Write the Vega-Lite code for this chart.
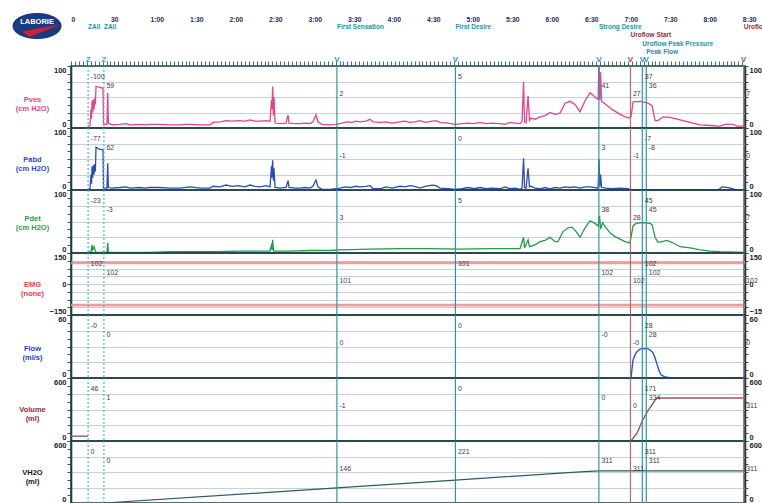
{
"$schema":"https://vega.github.io/schema/vega-lite/v6.json",
"padding":{"left":12,"top":0,"right":0,"bottom":0},
"autosize":{"type":"pad"},
"bounds":"flush",
"spacing":0,
"config":{"font":"Liberation Sans","view":{"stroke":"#1f3d45","strokeWidth":1.6},"axis":{"labelFont":"Liberation Sans","titleFont":"Liberation Sans"},"text":{"font":"Liberation Sans"}},
"datasets":{
"ev":[
{"id":"Z1","t":13,"r":0,"mk":"Z","kind":"z","lab":"ZAll","line":0},
{"id":"Z2","t":25,"r":1,"mk":"Z","kind":"z","lab":"ZAll","line":0},
{"id":"FS","t":202,"r":2,"mk":"V","kind":"v","lab":"First Sensation","line":0},
{"id":"FD","t":292,"r":0,"mk":"V","kind":"v","lab":"First Desire","line":0},
{"id":"SD","t":401,"r":1,"mk":"V","kind":"v","lab":"Strong Desire","line":0},
{"id":"US","t":425,"r":2,"mk":"V","kind":"u","lab":"Uroflow Start","line":1},
{"id":"PP","t":434,"r":0,"mk":"V","kind":"v","lab":"Uroflow Peak Pressure","line":2},
{"id":"PF","t":437,"r":1,"mk":"V","kind":"v","lab":"Peak Flow","line":3},
{"id":"UE","t":511,"r":2,"mk":"V","kind":"u","lab":"Uroflow End","line":0}
],
"ann":[
{"c":"Pves","e":"Z1","txt":"-100"},{"c":"Pves","e":"Z2","txt":"59"},{"c":"Pves","e":"FS","txt":"2"},{"c":"Pves","e":"FD","txt":"5"},{"c":"Pves","e":"SD","txt":"41"},{"c":"Pves","e":"US","txt":"27"},{"c":"Pves","e":"PP","txt":"37"},{"c":"Pves","e":"PF","txt":"36"},{"c":"Pves","e":"UE","txt":"7"},
{"c":"Pabd","e":"Z1","txt":"-77"},{"c":"Pabd","e":"Z2","txt":"62"},{"c":"Pabd","e":"FS","txt":"-1"},{"c":"Pabd","e":"FD","txt":"0"},{"c":"Pabd","e":"SD","txt":"3"},{"c":"Pabd","e":"US","txt":"-1"},{"c":"Pabd","e":"PP","txt":"-7"},{"c":"Pabd","e":"PF","txt":"-8"},{"c":"Pabd","e":"UE","txt":"0"},
{"c":"Pdet","e":"Z1","txt":"-23"},{"c":"Pdet","e":"Z2","txt":"-3"},{"c":"Pdet","e":"FS","txt":"3"},{"c":"Pdet","e":"FD","txt":"5"},{"c":"Pdet","e":"SD","txt":"38"},{"c":"Pdet","e":"US","txt":"28"},{"c":"Pdet","e":"PP","txt":"45"},{"c":"Pdet","e":"PF","txt":"45"},{"c":"Pdet","e":"UE","txt":"7"},
{"c":"EMG","e":"Z1","txt":"102"},{"c":"EMG","e":"Z2","txt":"102"},{"c":"EMG","e":"FS","txt":"101"},{"c":"EMG","e":"FD","txt":"101"},{"c":"EMG","e":"SD","txt":"102"},{"c":"EMG","e":"US","txt":"102"},{"c":"EMG","e":"PP","txt":"102"},{"c":"EMG","e":"PF","txt":"102"},{"c":"EMG","e":"UE","txt":"102"},
{"c":"Flow","e":"Z1","txt":"-0"},{"c":"Flow","e":"Z2","txt":"0"},{"c":"Flow","e":"FS","txt":"0"},{"c":"Flow","e":"FD","txt":"0"},{"c":"Flow","e":"SD","txt":"-0"},{"c":"Flow","e":"US","txt":"-0"},{"c":"Flow","e":"PP","txt":"28"},{"c":"Flow","e":"PF","txt":"28"},{"c":"Flow","e":"UE","txt":"0"},
{"c":"Volume","e":"Z1","txt":"46"},{"c":"Volume","e":"Z2","txt":"1"},{"c":"Volume","e":"FS","txt":"-1"},{"c":"Volume","e":"FD","txt":"0"},{"c":"Volume","e":"SD","txt":"0"},{"c":"Volume","e":"US","txt":"0"},{"c":"Volume","e":"PP","txt":"171"},{"c":"Volume","e":"PF","txt":"334"},{"c":"Volume","e":"UE","txt":"311"},
{"c":"VH2O","e":"Z1","txt":"0"},{"c":"VH2O","e":"Z2","txt":"0"},{"c":"VH2O","e":"FS","txt":"146"},{"c":"VH2O","e":"FD","txt":"221"},{"c":"VH2O","e":"SD","txt":"311"},{"c":"VH2O","e":"US","txt":"311"},{"c":"VH2O","e":"PP","txt":"311"},{"c":"VH2O","e":"PF","txt":"311"},{"c":"VH2O","e":"UE","txt":"311"}
],
"sig":[
{"c":"Pves","t":12.9,"v":3},{"c":"Pves","t":14.4,"v":4},{"c":"Pves","t":15.2,"v":30},{"c":"Pves","t":15.6,"v":15},{"c":"Pves","t":16.0,"v":44},{"c":"Pves","t":16.5,"v":25},{"c":"Pves","t":16.9,"v":46},{"c":"Pves","t":17.5,"v":30},{"c":"Pves","t":18.0,"v":48},{"c":"Pves","t":18.5,"v":38},{"c":"Pves","t":19.0,"v":67},{"c":"Pves","t":21.3,"v":66},{"c":"Pves","t":24.3,"v":64},{"c":"Pves","t":24.7,"v":6},{"c":"Pves","t":27.3,"v":6},{"c":"Pves","t":27.9,"v":57},{"c":"Pves","t":28.4,"v":8},{"c":"Pves","t":31.1,"v":5},{"c":"Pves","t":37.2,"v":6},{"c":"Pves","t":41.8,"v":7},{"c":"Pves","t":44.8,"v":5},{"c":"Pves","t":52.4,"v":6},{"c":"Pves","t":56.2,"v":5},{"c":"Pves","t":60.0,"v":6},{"c":"Pves","t":67.6,"v":6},{"c":"Pves","t":75.2,"v":5},{"c":"Pves","t":82.8,"v":5},{"c":"Pves","t":86.6,"v":6},{"c":"Pves","t":90.4,"v":6},{"c":"Pves","t":98.0,"v":5},{"c":"Pves","t":105.6,"v":5},{"c":"Pves","t":107.9,"v":9},{"c":"Pves","t":113.2,"v":10},{"c":"Pves","t":117.8,"v":12},{"c":"Pves","t":122.3,"v":11},{"c":"Pves","t":126.9,"v":12},{"c":"Pves","t":132.2,"v":11},{"c":"Pves","t":136.0,"v":13},{"c":"Pves","t":139.8,"v":11},{"c":"Pves","t":143.6,"v":11},{"c":"Pves","t":148.1,"v":12},{"c":"Pves","t":151.2,"v":11},{"c":"Pves","t":152.3,"v":45},{"c":"Pves","t":152.7,"v":30},{"c":"Pves","t":153.2,"v":67},{"c":"Pves","t":153.8,"v":20},{"c":"Pves","t":154.2,"v":50},{"c":"Pves","t":155.0,"v":8},{"c":"Pves","t":158.8,"v":7},{"c":"Pves","t":163.3,"v":8},{"c":"Pves","t":164.9,"v":21},{"c":"Pves","t":165.6,"v":8},{"c":"Pves","t":170.2,"v":7},{"c":"Pves","t":174.0,"v":7},{"c":"Pves","t":177.8,"v":8},{"c":"Pves","t":181.6,"v":7},{"c":"Pves","t":183.8,"v":10},{"c":"Pves","t":186.1,"v":21},{"c":"Pves","t":187.6,"v":10},{"c":"Pves","t":190.7,"v":6},{"c":"Pves","t":196.8,"v":5},{"c":"Pves","t":201.3,"v":6},{"c":"Pves","t":205.9,"v":8},{"c":"Pves","t":209.7,"v":10},{"c":"Pves","t":213.5,"v":9},{"c":"Pves","t":216.5,"v":11},{"c":"Pves","t":219.6,"v":10},{"c":"Pves","t":224.1,"v":11},{"c":"Pves","t":227.1,"v":14},{"c":"Pves","t":229.4,"v":10},{"c":"Pves","t":234.7,"v":9},{"c":"Pves","t":239.3,"v":10},{"c":"Pves","t":243.9,"v":8},{"c":"Pves","t":249.9,"v":10},{"c":"Pves","t":253.7,"v":11},{"c":"Pves","t":257.5,"v":9},{"c":"Pves","t":261.3,"v":10},{"c":"Pves","t":265.1,"v":12},{"c":"Pves","t":268.9,"v":9},{"c":"Pves","t":274.3,"v":11},{"c":"Pves","t":277.3,"v":12},{"c":"Pves","t":280.3,"v":9},{"c":"Pves","t":286.4,"v":8},{"c":"Pves","t":291.7,"v":6},{"c":"Pves","t":297.0,"v":7},{"c":"Pves","t":301.6,"v":8},{"c":"Pves","t":306.2,"v":7},{"c":"Pves","t":310.7,"v":9},{"c":"Pves","t":315.3,"v":7},{"c":"Pves","t":319.8,"v":8},{"c":"Pves","t":325.9,"v":7},{"c":"Pves","t":329.7,"v":6},{"c":"Pves","t":333.5,"v":9},{"c":"Pves","t":337.3,"v":8},{"c":"Pves","t":341.1,"v":7},{"c":"Pves","t":342.6,"v":10},{"c":"Pves","t":343.8,"v":74},{"c":"Pves","t":344.5,"v":10},{"c":"Pves","t":345.7,"v":8},{"c":"Pves","t":347.2,"v":52},{"c":"Pves","t":348.3,"v":12},{"c":"Pves","t":349.5,"v":16},{"c":"Pves","t":352.5,"v":14},{"c":"Pves","t":356.3,"v":18},{"c":"Pves","t":360.1,"v":20},{"c":"Pves","t":363.9,"v":25},{"c":"Pves","t":367.7,"v":22},{"c":"Pves","t":371.5,"v":24},{"c":"Pves","t":375.3,"v":40},{"c":"Pves","t":379.1,"v":43},{"c":"Pves","t":382.9,"v":38},{"c":"Pves","t":386.7,"v":26},{"c":"Pves","t":390.5,"v":44},{"c":"Pves","t":394.3,"v":57},{"c":"Pves","t":398.1,"v":50},{"c":"Pves","t":400.4,"v":46},{"c":"Pves","t":401.1,"v":115},{"c":"Pves","t":401.7,"v":45},{"c":"Pves","t":402.3,"v":90},{"c":"Pves","t":403.0,"v":43},{"c":"Pves","t":406.4,"v":38},{"c":"Pves","t":411.0,"v":30},{"c":"Pves","t":417.1,"v":22},{"c":"Pves","t":423.2,"v":16},{"c":"Pves","t":425.4,"v":18},{"c":"Pves","t":427.0,"v":42},{"c":"Pves","t":432.3,"v":43},{"c":"Pves","t":438.3,"v":40},{"c":"Pves","t":441.4,"v":36},{"c":"Pves","t":443.7,"v":12},{"c":"Pves","t":445.9,"v":12},{"c":"Pves","t":449.7,"v":18},{"c":"Pves","t":455.1,"v":17},{"c":"Pves","t":462.7,"v":13},{"c":"Pves","t":470.3,"v":9},{"c":"Pves","t":477.9,"v":5},{"c":"Pves","t":485.4,"v":4},{"c":"Pves","t":493.0,"v":3},{"c":"Pves","t":496.8,"v":6},{"c":"Pves","t":502.9,"v":6},{"c":"Pves","t":506.0,"v":3},{"c":"Pves","t":512.0,"v":3},
{"c":"Pabd","t":12.9,"v":1},{"c":"Pabd","t":14.4,"v":2},{"c":"Pabd","t":15.2,"v":25},{"c":"Pabd","t":15.6,"v":10},{"c":"Pabd","t":16.0,"v":38},{"c":"Pabd","t":16.5,"v":20},{"c":"Pabd","t":16.9,"v":40},{"c":"Pabd","t":17.5,"v":25},{"c":"Pabd","t":18.0,"v":42},{"c":"Pabd","t":18.5,"v":30},{"c":"Pabd","t":19.0,"v":69},{"c":"Pabd","t":21.3,"v":66},{"c":"Pabd","t":24.3,"v":65},{"c":"Pabd","t":24.7,"v":3},{"c":"Pabd","t":27.3,"v":3},{"c":"Pabd","t":27.9,"v":43},{"c":"Pabd","t":28.4,"v":4},{"c":"Pabd","t":31.1,"v":3},{"c":"Pabd","t":37.2,"v":4},{"c":"Pabd","t":41.8,"v":5},{"c":"Pabd","t":44.8,"v":3},{"c":"Pabd","t":52.4,"v":4},{"c":"Pabd","t":56.2,"v":3},{"c":"Pabd","t":60.0,"v":4},{"c":"Pabd","t":67.6,"v":4},{"c":"Pabd","t":75.2,"v":3},{"c":"Pabd","t":82.8,"v":3},{"c":"Pabd","t":90.4,"v":5},{"c":"Pabd","t":98.0,"v":3},{"c":"Pabd","t":105.6,"v":3},{"c":"Pabd","t":107.9,"v":6},{"c":"Pabd","t":113.2,"v":5},{"c":"Pabd","t":117.8,"v":8},{"c":"Pabd","t":122.3,"v":6},{"c":"Pabd","t":126.9,"v":7},{"c":"Pabd","t":132.2,"v":5},{"c":"Pabd","t":136.0,"v":8},{"c":"Pabd","t":139.8,"v":6},{"c":"Pabd","t":143.6,"v":5},{"c":"Pabd","t":148.1,"v":7},{"c":"Pabd","t":151.2,"v":5},{"c":"Pabd","t":152.3,"v":39},{"c":"Pabd","t":152.7,"v":20},{"c":"Pabd","t":153.2,"v":48},{"c":"Pabd","t":153.8,"v":15},{"c":"Pabd","t":154.2,"v":35},{"c":"Pabd","t":155.0,"v":4},{"c":"Pabd","t":158.8,"v":3},{"c":"Pabd","t":163.3,"v":4},{"c":"Pabd","t":164.9,"v":15},{"c":"Pabd","t":165.6,"v":4},{"c":"Pabd","t":170.2,"v":3},{"c":"Pabd","t":174.0,"v":3},{"c":"Pabd","t":177.8,"v":4},{"c":"Pabd","t":181.6,"v":3},{"c":"Pabd","t":183.8,"v":6},{"c":"Pabd","t":186.1,"v":16},{"c":"Pabd","t":187.6,"v":5},{"c":"Pabd","t":190.7,"v":1},{"c":"Pabd","t":196.8,"v":1},{"c":"Pabd","t":204.4,"v":3},{"c":"Pabd","t":208.2,"v":5},{"c":"Pabd","t":212.0,"v":4},{"c":"Pabd","t":216.5,"v":6},{"c":"Pabd","t":219.6,"v":5},{"c":"Pabd","t":224.1,"v":6},{"c":"Pabd","t":227.1,"v":7},{"c":"Pabd","t":229.4,"v":2},{"c":"Pabd","t":234.7,"v":2},{"c":"Pabd","t":239.3,"v":5},{"c":"Pabd","t":243.9,"v":3},{"c":"Pabd","t":249.9,"v":6},{"c":"Pabd","t":253.7,"v":5},{"c":"Pabd","t":257.5,"v":7},{"c":"Pabd","t":261.3,"v":6},{"c":"Pabd","t":265.1,"v":3},{"c":"Pabd","t":268.9,"v":6},{"c":"Pabd","t":274.3,"v":8},{"c":"Pabd","t":277.3,"v":7},{"c":"Pabd","t":280.3,"v":3},{"c":"Pabd","t":286.4,"v":2},{"c":"Pabd","t":291.7,"v":1},{"c":"Pabd","t":297.0,"v":2},{"c":"Pabd","t":301.6,"v":4},{"c":"Pabd","t":306.2,"v":2},{"c":"Pabd","t":310.7,"v":4},{"c":"Pabd","t":315.3,"v":2},{"c":"Pabd","t":319.8,"v":3},{"c":"Pabd","t":325.9,"v":2},{"c":"Pabd","t":329.7,"v":5},{"c":"Pabd","t":333.5,"v":2},{"c":"Pabd","t":337.3,"v":3},{"c":"Pabd","t":341.1,"v":1},{"c":"Pabd","t":342.6,"v":3},{"c":"Pabd","t":343.8,"v":51},{"c":"Pabd","t":344.5,"v":4},{"c":"Pabd","t":345.7,"v":3},{"c":"Pabd","t":347.2,"v":35},{"c":"Pabd","t":348.3,"v":5},{"c":"Pabd","t":349.5,"v":6},{"c":"Pabd","t":352.5,"v":3},{"c":"Pabd","t":356.3,"v":2},{"c":"Pabd","t":360.1,"v":4},{"c":"Pabd","t":363.9,"v":2},{"c":"Pabd","t":367.7,"v":4},{"c":"Pabd","t":371.5,"v":3},{"c":"Pabd","t":375.3,"v":5},{"c":"Pabd","t":379.1,"v":4},{"c":"Pabd","t":382.9,"v":5},{"c":"Pabd","t":386.7,"v":3},{"c":"Pabd","t":390.5,"v":5},{"c":"Pabd","t":394.3,"v":5},{"c":"Pabd","t":398.1,"v":4},{"c":"Pabd","t":400.4,"v":3},{"c":"Pabd","t":401.1,"v":50},{"c":"Pabd","t":401.7,"v":5},{"c":"Pabd","t":402.3,"v":25},{"c":"Pabd","t":403.0,"v":4},{"c":"Pabd","t":406.4,"v":3},{"c":"Pabd","t":411.0,"v":2},{"c":"Pabd","t":417.1,"v":3},{"c":"Pabd","t":423.2,"v":2},{"c":"Pabd","t":425.4,"v":0},{"c":"Pabd","t":491.5,"v":0},{"c":"Pabd","t":494.6,"v":5},{"c":"Pabd","t":499.1,"v":4},{"c":"Pabd","t":502.9,"v":2},{"c":"Pabd","t":506.0,"v":0},{"c":"Pabd","t":512.0,"v":0},
{"c":"Pdet","t":12.9,"v":1},{"c":"Pdet","t":15.2,"v":2},{"c":"Pdet","t":16.0,"v":13},{"c":"Pdet","t":16.5,"v":5},{"c":"Pdet","t":17.5,"v":10},{"c":"Pdet","t":18.5,"v":3},{"c":"Pdet","t":19.0,"v":1},{"c":"Pdet","t":24.7,"v":1},{"c":"Pdet","t":27.3,"v":1},{"c":"Pdet","t":27.9,"v":16},{"c":"Pdet","t":28.4,"v":1},{"c":"Pdet","t":31.1,"v":1},{"c":"Pdet","t":44.8,"v":1},{"c":"Pdet","t":60.0,"v":1},{"c":"Pdet","t":75.2,"v":2},{"c":"Pdet","t":98.0,"v":2},{"c":"Pdet","t":109.4,"v":2},{"c":"Pdet","t":128.4,"v":3},{"c":"Pdet","t":143.6,"v":3},{"c":"Pdet","t":151.2,"v":3},{"c":"Pdet","t":152.5,"v":15},{"c":"Pdet","t":152.7,"v":5},{"c":"Pdet","t":153.2,"v":21},{"c":"Pdet","t":153.8,"v":3},{"c":"Pdet","t":166.4,"v":3},{"c":"Pdet","t":181.6,"v":4},{"c":"Pdet","t":196.8,"v":4},{"c":"Pdet","t":204.4,"v":5},{"c":"Pdet","t":227.1,"v":6},{"c":"Pdet","t":249.9,"v":7},{"c":"Pdet","t":272.7,"v":7},{"c":"Pdet","t":295.5,"v":6},{"c":"Pdet","t":318.3,"v":7},{"c":"Pdet","t":341.1,"v":7},{"c":"Pdet","t":343.8,"v":25},{"c":"Pdet","t":344.5,"v":8},{"c":"Pdet","t":347.2,"v":21},{"c":"Pdet","t":348.3,"v":10},{"c":"Pdet","t":352.5,"v":13},{"c":"Pdet","t":356.3,"v":18},{"c":"Pdet","t":360.1,"v":20},{"c":"Pdet","t":363.9,"v":25},{"c":"Pdet","t":367.7,"v":18},{"c":"Pdet","t":369.9,"v":18},{"c":"Pdet","t":373.8,"v":34},{"c":"Pdet","t":377.6,"v":40},{"c":"Pdet","t":380.6,"v":41},{"c":"Pdet","t":383.7,"v":34},{"c":"Pdet","t":386.7,"v":25},{"c":"Pdet","t":390.5,"v":40},{"c":"Pdet","t":394.3,"v":51},{"c":"Pdet","t":398.1,"v":47},{"c":"Pdet","t":400.4,"v":43},{"c":"Pdet","t":401.5,"v":59},{"c":"Pdet","t":402.3,"v":38},{"c":"Pdet","t":403.8,"v":48},{"c":"Pdet","t":406.0,"v":41},{"c":"Pdet","t":409.5,"v":32},{"c":"Pdet","t":413.3,"v":26},{"c":"Pdet","t":417.1,"v":22},{"c":"Pdet","t":420.9,"v":18},{"c":"Pdet","t":424.6,"v":16},{"c":"Pdet","t":427.0,"v":43},{"c":"Pdet","t":429.2,"v":47},{"c":"Pdet","t":432.3,"v":48},{"c":"Pdet","t":436.1,"v":48},{"c":"Pdet","t":439.9,"v":47},{"c":"Pdet","t":441.4,"v":45},{"c":"Pdet","t":443.7,"v":25},{"c":"Pdet","t":445.9,"v":17},{"c":"Pdet","t":448.9,"v":18},{"c":"Pdet","t":452.7,"v":20},{"c":"Pdet","t":456.5,"v":17},{"c":"Pdet","t":462.7,"v":10},{"c":"Pdet","t":470.3,"v":8},{"c":"Pdet","t":477.9,"v":5},{"c":"Pdet","t":485.4,"v":3},{"c":"Pdet","t":493.0,"v":2},{"c":"Pdet","t":512.0,"v":1},
{"c":"EMG","s":"a","t":0,"v":102},{"c":"EMG","s":"a","t":512,"v":102},{"c":"EMG","s":"b","t":0,"v":-102},{"c":"EMG","s":"b","t":512,"v":-102},
{"c":"Flow","t":425.4,"v":0},{"c":"Flow","t":426.1,"v":8},{"c":"Flow","t":426.9,"v":17},{"c":"Flow","t":428.4,"v":22},{"c":"Flow","t":429.9,"v":25},{"c":"Flow","t":432.2,"v":27.5},{"c":"Flow","t":435.3,"v":28},{"c":"Flow","t":438.3,"v":28},{"c":"Flow","t":440.6,"v":26},{"c":"Flow","t":442.1,"v":24},{"c":"Flow","t":443.7,"v":19},{"c":"Flow","t":445.2,"v":13},{"c":"Flow","t":446.7,"v":7},{"c":"Flow","t":448.2,"v":3},{"c":"Flow","t":451.3,"v":1},{"c":"Flow","t":455.1,"v":0.3},{"c":"Flow","t":512,"v":0},
{"c":"Volume","s":"a","t":0,"v":46},{"c":"Volume","s":"a","t":12.9,"v":46},{"c":"Volume","s":"b","t":425.4,"v":0},{"c":"Volume","s":"b","t":430,"v":75},{"c":"Volume","s":"b","t":434.3,"v":200},{"c":"Volume","s":"b","t":438.3,"v":290},{"c":"Volume","s":"b","t":441.4,"v":345},{"c":"Volume","s":"b","t":443.7,"v":390},{"c":"Volume","s":"b","t":445.2,"v":410},{"c":"Volume","s":"b","t":512,"v":410},
{"c":"VH2O","t":25,"v":0},{"c":"VH2O","t":202,"v":146},{"c":"VH2O","t":292,"v":221},{"c":"VH2O","t":372,"v":290},{"c":"VH2O","t":390,"v":304},{"c":"VH2O","t":401,"v":311},{"c":"VH2O","t":512,"v":311}
]
},
"vconcat":[
{
"width":674,"height":66,"view":{"stroke":null},
"layer":[
{"data":{"name":"ev"},"transform":[{"filter":"datum.id!=='UE'"}],
"mark":{"type":"text","align":"left","baseline":"middle","fontSize":6.5,"fontWeight":"bold"},
"encoding":{
"x":{"field":"t","type":"quantitative","scale":{"domain":[0,512],"nice":false,"zero":false},"axis":{"orient":"top","offset":-23,"values":[0,30,60,90,120,150,180,210,240,270,300,330,360,390,420,450,480,510],"labelExpr":"datum.value<60 ? format(datum.value,'d') : floor(datum.value/60) + ':' + (datum.value%60==0 ? '00' : '30')","labelAlign":"left","labelOverlap":false,"ticks":false,"tickSize":0,"domain":false,"grid":false,"labelPadding":1,"labelFontSize":6.8,"labelFontWeight":"bold","labelColor":"#1d2d5a","title":null}},
"y":{"field":"line","type":"quantitative","scale":{"domain":[-3.24,4.68],"reverse":true,"nice":false,"zero":false},"axis":null},
"text":{"field":"lab"},
"color":{"condition":{"test":"datum.kind==='u'","value":"#9b2d3f"},"value":"#1a93ad"}}},
{"data":{"name":"ev"},"transform":[{"filter":"datum.id==='UE'"}],
"mark":{"type":"text","align":"left","baseline":"middle","fontSize":6.5,"fontWeight":"bold","limit":20,"ellipsis":"\u200b"},
"encoding":{
"x":{"field":"t","type":"quantitative","scale":{"domain":[0,512],"nice":false,"zero":false},"axis":null},
"y":{"field":"line","type":"quantitative"},
"text":{"field":"lab"},
"color":{"value":"#9b2d3f"}}},
{"data":{"name":"ev"},
"mark":{"type":"text","align":"center","baseline":"middle","fontSize":8,"fontWeight":"bold"},
"encoding":{
"x":{"field":"t","type":"quantitative","scale":{"domain":[0,512],"nice":false,"zero":false},"axis":{"orient":"bottom","offset":-5,"values":[0,3,6,9,12,15,18,21,24,27,30,33,36,39,42,45,48,51,54,57,60,63,66,69,72,75,78,81,84,87,90,93,96,99,102,105,108,111,114,117,120,123,126,129,132,135,138,141,144,147,150,153,156,159,162,165,168,171,174,177,180,183,186,189,192,195,198,201,204,207,210,213,216,219,222,225,228,231,234,237,240,243,246,249,252,255,258,261,264,267,270,273,276,279,282,285,288,291,294,297,300,303,306,309,312,315,318,321,324,327,330,333,336,339,342,345,348,351,354,357,360,363,366,369,372,375,378,381,384,387,390,393,396,399,402,405,408,411,414,417,420,423,426,429,432,435,438,441,444,447,450,453,456,459,462,465,468,471,474,477,480,483,486,489,492,495,498,501,504,507,510],"ticks":true,"tickSize":4,"tickColor":"#2b7a8c","tickWidth":1,"labels":false,"domain":false,"grid":false,"title":null}},
"y":{"datum":3.96,"type":"quantitative"},
"text":{"field":"mk"},
"color":{"condition":[{"test":"datum.kind==='u'","value":"#b0454f"},{"test":"datum.kind==='z'","value":"#35aed0"}],"value":"#2496b0"}}},
{"data":{"values":[{}]},
"mark":{"type":"point","shape":"M-1,0A1,0.53,0,1,0,1,0A1,0.53,0,1,0,-1,0Z","size":2401,"filled":true,"color":"#1c3a80","opacity":1,"strokeWidth":0},
"encoding":{"x":{"datum":-25.8,"type":"quantitative","axis":null},"y":{"datum":-0.12,"type":"quantitative"}}},
{"data":{"values":[{}]},
"mark":{"type":"point","shape":"M-0.62,0.22L0.95,-0.06L-0.3,0.44Z","size":2401,"filled":true,"color":"#d4202c","opacity":1,"strokeWidth":0},
"encoding":{"x":{"datum":-25.8,"type":"quantitative","axis":null},"y":{"datum":-0.12,"type":"quantitative"}}},
{"data":{"values":[{}]},
"mark":{"type":"text","align":"center","baseline":"middle","fontSize":7.5,"fontWeight":"bold","color":"#ffffff","text":"LABORIE"},
"encoding":{"x":{"datum":-25.8,"type":"quantitative","axis":null},"y":{"datum":-0.6,"type":"quantitative"}}}
],
"resolve":{"axis":{"x":"independent"}}
},
{
"width":674,"height":62,
"layer":[
{"data":{"name":"sig"},"transform":[{"filter":"datum.c==='Pves'"}],
"mark":{"type":"line","color":"#e8428c","strokeWidth":1.3,"clip":true},
"encoding":{
"x":{"field":"t","type":"quantitative","scale":{"domain":[0,512],"nice":false,"zero":false},"axis":{"orient":"top","values":[0,30,60,90,120,150,180,210,240,270,300,330,360,390,420,450,480,510],"grid":true,"gridColor":"#d0e2ee","gridOpacity":{"condition":{"test":"datum.value>0","value":1},"value":0},"ticks":true,"tickSize":7,"tickColor":"#2b7a8c","labels":false,"domain":false,"title":null}},
"y":{"field":"v","type":"quantitative","scale":{"domain":[0,100],"nice":false,"zero":false},"axis":{"orient":"left","values":[0,12.5,25,37.5,50,62.5,75,87.5,100],"labelExpr":"datum.value==0||datum.value==100?datum.label:''","labelFlush":true,"labelOverlap":false,"tickSize":4,"tickColor":"#33555e","domainColor":"#1f3d45","domainWidth":1.6,"grid":true,"gridColor":"#c5d0d8","gridOpacity":{"condition":{"test":"datum.value==25||datum.value==50||datum.value==75","value":1},"value":0},"labelFontSize":7.5,"labelFontWeight":"bold","labelColor":"#222222","labelPadding":1,"title":["Pves","(cm H2O)"],"titleColor":"#e8428c","titleFontSize":7.5,"titleFontWeight":"bold","titleAngle":0,"titleAlign":"center","titleBaseline":"middle","titleX":-39,"titleY":33,"titleLineHeight":9}},
"detail":{"field":"s"}}},
{"data":{"name":"ev"},"mark":{"type":"rule","strokeWidth":1.2},
"encoding":{"x":{"field":"t","type":"quantitative","scale":{"domain":[0,512],"nice":false,"zero":false},"axis":null},
"color":{"condition":[{"test":"datum.kind==='u'","value":"#b46a6a"},{"test":"datum.kind==='z'","value":"#4ab6d6"}],"value":"#2a98b0"},
"strokeDash":{"condition":{"test":"datum.kind==='z'","value":[2,2]},"value":[1,0]}}},
{"data":{"values":[{}]},"mark":{"type":"rule","opacity":0},
"encoding":{"y":{"datum":0,"type":"quantitative","scale":{"domain":[0,100],"nice":false,"zero":false},"axis":{"orient":"right","values":[0,12.5,25,37.5,50,62.5,75,87.5,100],"labelExpr":"datum.value==0||datum.value==100?datum.label:''","labelFlush":true,"labelOverlap":false,"tickSize":3,"tickColor":"#33555e","domainColor":"#1f3d45","domainWidth":1.6,"grid":false,"labelFontSize":7.5,"labelFontWeight":"bold","labelColor":"#222222","labelPadding":1,"title":null}}}},
{"data":{"name":"ann"},"transform":[{"filter":"datum.c==='Pves'"},{"lookup":"e","from":{"data":{"name":"ev"},"key":"id","fields":["t","r"]}}],
"mark":{"type":"text","align":"left","baseline":"middle","dx":2.5,"fontSize":7,"color":"#3c3c3c"},
"encoding":{"x":{"field":"t","type":"quantitative","scale":{"domain":[0,512],"nice":false,"zero":false},"axis":null},
"y":{"field":"r","type":"quantitative","scale":{"domain":[-1.3,6],"reverse":true,"nice":false,"zero":false},"axis":null},
"text":{"field":"txt"}}}
],
"resolve":{"scale":{"y":"independent"}}
},
{
"width":674,"height":62,
"layer":[
{"data":{"name":"sig"},"transform":[{"filter":"datum.c==='Pabd'"}],
"mark":{"type":"line","color":"#2a4cb8","strokeWidth":1.3,"clip":true},
"encoding":{
"x":{"field":"t","type":"quantitative","scale":{"domain":[0,512],"nice":false,"zero":false},"axis":{"orient":"bottom","values":[0,30,60,90,120,150,180,210,240,270,300,330,360,390,420,450,480,510],"grid":true,"gridColor":"#d0e2ee","gridOpacity":{"condition":{"test":"datum.value>0","value":1},"value":0},"ticks":false,"labels":false,"domain":false,"title":null}},
"y":{"field":"v","type":"quantitative","scale":{"domain":[0,100],"nice":false,"zero":false},"axis":{"orient":"left","values":[0,12.5,25,37.5,50,62.5,75,87.5,100],"labelExpr":"datum.value==0||datum.value==100?datum.label:''","labelFlush":true,"labelOverlap":false,"tickSize":4,"tickColor":"#33555e","domainColor":"#1f3d45","domainWidth":1.6,"grid":true,"gridColor":"#c5d0d8","gridOpacity":{"condition":{"test":"datum.value==25||datum.value==50||datum.value==75","value":1},"value":0},"labelFontSize":7.5,"labelFontWeight":"bold","labelColor":"#222222","labelPadding":1,"title":["Pabd","(cm H2O)"],"titleColor":"#2a4cb8","titleFontSize":7.5,"titleFontWeight":"bold","titleAngle":0,"titleAlign":"center","titleBaseline":"middle","titleX":-39,"titleY":31,"titleLineHeight":9}}}},
{"data":{"name":"ev"},"mark":{"type":"rule","strokeWidth":1.2},
"encoding":{"x":{"field":"t","type":"quantitative","scale":{"domain":[0,512],"nice":false,"zero":false},"axis":null},
"color":{"condition":[{"test":"datum.kind==='u'","value":"#b46a6a"},{"test":"datum.kind==='z'","value":"#4ab6d6"}],"value":"#2a98b0"},
"strokeDash":{"condition":{"test":"datum.kind==='z'","value":[2,2]},"value":[1,0]}}},
{"data":{"values":[{}]},"mark":{"type":"rule","opacity":0},
"encoding":{"y":{"datum":0,"type":"quantitative","scale":{"domain":[0,100],"nice":false,"zero":false},"axis":{"orient":"right","values":[0,12.5,25,37.5,50,62.5,75,87.5,100],"labelExpr":"datum.value==0||datum.value==100?datum.label:''","labelFlush":true,"labelOverlap":false,"tickSize":3,"tickColor":"#33555e","domainColor":"#1f3d45","domainWidth":1.6,"grid":false,"labelFontSize":7.5,"labelFontWeight":"bold","labelColor":"#222222","labelPadding":1,"title":null}}}},
{"data":{"name":"ann"},"transform":[{"filter":"datum.c==='Pabd'"},{"lookup":"e","from":{"data":{"name":"ev"},"key":"id","fields":["t","r"]}}],
"mark":{"type":"text","align":"left","baseline":"middle","dx":2.5,"fontSize":7,"color":"#3c3c3c"},
"encoding":{"x":{"field":"t","type":"quantitative","scale":{"domain":[0,512],"nice":false,"zero":false},"axis":null},
"y":{"field":"r","type":"quantitative","scale":{"domain":[-1.3,6],"reverse":true,"nice":false,"zero":false},"axis":null},
"text":{"field":"txt"}}}
],
"resolve":{"scale":{"y":"independent"}}
},
{
"width":674,"height":63,
"layer":[
{"data":{"name":"sig"},"transform":[{"filter":"datum.c==='Pdet'"}],
"mark":{"type":"line","color":"#1f9e45","strokeWidth":1.3,"clip":true},
"encoding":{
"x":{"field":"t","type":"quantitative","scale":{"domain":[0,512],"nice":false,"zero":false},"axis":{"orient":"bottom","values":[0,30,60,90,120,150,180,210,240,270,300,330,360,390,420,450,480,510],"grid":true,"gridColor":"#d0e2ee","gridOpacity":{"condition":{"test":"datum.value>0","value":1},"value":0},"ticks":false,"labels":false,"domain":false,"title":null}},
"y":{"field":"v","type":"quantitative","scale":{"domain":[0,100],"nice":false,"zero":false},"axis":{"orient":"left","values":[0,12.5,25,37.5,50,62.5,75,87.5,100],"labelExpr":"datum.value==0||datum.value==100?datum.label:''","labelFlush":true,"labelOverlap":false,"tickSize":4,"tickColor":"#33555e","domainColor":"#1f3d45","domainWidth":1.6,"grid":true,"gridColor":"#c5d0d8","gridOpacity":{"condition":{"test":"datum.value==25||datum.value==50||datum.value==75","value":1},"value":0},"labelFontSize":7.5,"labelFontWeight":"bold","labelColor":"#222222","labelPadding":1,"title":["Pdet","(cm H2O)"],"titleColor":"#1f9e45","titleFontSize":7.5,"titleFontWeight":"bold","titleAngle":0,"titleAlign":"center","titleBaseline":"middle","titleX":-39,"titleY":28,"titleLineHeight":9}}}},
{"data":{"name":"ev"},"mark":{"type":"rule","strokeWidth":1.2},
"encoding":{"x":{"field":"t","type":"quantitative","scale":{"domain":[0,512],"nice":false,"zero":false},"axis":null},
"color":{"condition":[{"test":"datum.kind==='u'","value":"#b46a6a"},{"test":"datum.kind==='z'","value":"#4ab6d6"}],"value":"#2a98b0"},
"strokeDash":{"condition":{"test":"datum.kind==='z'","value":[2,2]},"value":[1,0]}}},
{"data":{"values":[{}]},"mark":{"type":"rule","opacity":0},
"encoding":{"y":{"datum":0,"type":"quantitative","scale":{"domain":[0,100],"nice":false,"zero":false},"axis":{"orient":"right","values":[0,12.5,25,37.5,50,62.5,75,87.5,100],"labelExpr":"datum.value==0||datum.value==100?datum.label:''","labelFlush":true,"labelOverlap":false,"tickSize":3,"tickColor":"#33555e","domainColor":"#1f3d45","domainWidth":1.6,"grid":false,"labelFontSize":7.5,"labelFontWeight":"bold","labelColor":"#222222","labelPadding":1,"title":null}}}},
{"data":{"name":"ann"},"transform":[{"filter":"datum.c==='Pdet'"},{"lookup":"e","from":{"data":{"name":"ev"},"key":"id","fields":["t","r"]}}],
"mark":{"type":"text","align":"left","baseline":"middle","dx":2.5,"fontSize":7,"color":"#3c3c3c"},
"encoding":{"x":{"field":"t","type":"quantitative","scale":{"domain":[0,512],"nice":false,"zero":false},"axis":null},
"y":{"field":"r","type":"quantitative","scale":{"domain":[-1.3,6],"reverse":true,"nice":false,"zero":false},"axis":null},
"text":{"field":"txt"}}}
],
"resolve":{"scale":{"y":"independent"}}
},
{
"width":674,"height":62,
"layer":[
{"data":{"name":"sig"},"transform":[{"filter":"datum.c==='EMG'"}],
"mark":{"type":"line","color":"#f08a8a","strokeWidth":2.6,"opacity":0.85,"clip":true},
"encoding":{
"x":{"field":"t","type":"quantitative","scale":{"domain":[0,512],"nice":false,"zero":false},"axis":{"orient":"bottom","values":[0,30,60,90,120,150,180,210,240,270,300,330,360,390,420,450,480,510],"grid":true,"gridColor":"#d0e2ee","gridOpacity":{"condition":{"test":"datum.value>0","value":1},"value":0},"ticks":false,"labels":false,"domain":false,"title":null}},
"y":{"field":"v","type":"quantitative","scale":{"domain":[-150,150],"nice":false,"zero":false},"axis":{"orient":"left","values":[-150,-112.5,-75,-37.5,0,37.5,75,112.5,150],"labelExpr":"datum.value==-150||datum.value==0||datum.value==150?datum.label:''","labelFlush":true,"labelOverlap":false,"tickSize":4,"tickColor":"#33555e","domainColor":"#1f3d45","domainWidth":1.6,"grid":true,"gridColor":"#c5d0d8","gridOpacity":{"condition":{"test":"datum.value>-150&&datum.value<150","value":1},"value":0},"labelFontSize":7.5,"labelFontWeight":"bold","labelColor":"#222222","labelPadding":1,"title":["EMG","(none)"],"titleColor":"#ee3b3b","titleFontSize":7.5,"titleFontWeight":"bold","titleAngle":0,"titleAlign":"center","titleBaseline":"middle","titleX":-39,"titleY":31,"titleLineHeight":9}},
"detail":{"field":"s"}}},
{"data":{"name":"ev"},"mark":{"type":"rule","strokeWidth":1.2},
"encoding":{"x":{"field":"t","type":"quantitative","scale":{"domain":[0,512],"nice":false,"zero":false},"axis":null},
"color":{"condition":[{"test":"datum.kind==='u'","value":"#b46a6a"},{"test":"datum.kind==='z'","value":"#4ab6d6"}],"value":"#2a98b0"},
"strokeDash":{"condition":{"test":"datum.kind==='z'","value":[2,2]},"value":[1,0]}}},
{"data":{"values":[{}]},"mark":{"type":"rule","opacity":0},
"encoding":{"y":{"datum":0,"type":"quantitative","scale":{"domain":[-150,150],"nice":false,"zero":false},"axis":{"orient":"right","values":[-150,-112.5,-75,-37.5,0,37.5,75,112.5,150],"labelExpr":"datum.value==-150||datum.value==0||datum.value==150?datum.label:''","labelFlush":true,"labelOverlap":false,"tickSize":3,"tickColor":"#33555e","domainColor":"#1f3d45","domainWidth":1.6,"grid":false,"labelFontSize":7.5,"labelFontWeight":"bold","labelColor":"#222222","labelPadding":1,"title":null}}}},
{"data":{"name":"ann"},"transform":[{"filter":"datum.c==='EMG'"},{"lookup":"e","from":{"data":{"name":"ev"},"key":"id","fields":["t","r"]}}],
"mark":{"type":"text","align":"left","baseline":"middle","dx":2.5,"fontSize":7,"color":"#3c3c3c"},
"encoding":{"x":{"field":"t","type":"quantitative","scale":{"domain":[0,512],"nice":false,"zero":false},"axis":null},
"y":{"field":"r","type":"quantitative","scale":{"domain":[-1.3,6],"reverse":true,"nice":false,"zero":false},"axis":null},
"text":{"field":"txt"}}}
],
"resolve":{"scale":{"y":"independent"}}
},
{
"width":674,"height":63,
"layer":[
{"data":{"name":"sig"},"transform":[{"filter":"datum.c==='Flow'"}],
"mark":{"type":"line","color":"#2456d0","strokeWidth":1.4,"clip":true},
"encoding":{
"x":{"field":"t","type":"quantitative","scale":{"domain":[0,512],"nice":false,"zero":false},"axis":{"orient":"bottom","values":[0,30,60,90,120,150,180,210,240,270,300,330,360,390,420,450,480,510],"grid":true,"gridColor":"#d0e2ee","gridOpacity":{"condition":{"test":"datum.value>0","value":1},"value":0},"ticks":false,"labels":false,"domain":false,"title":null}},
"y":{"field":"v","type":"quantitative","scale":{"domain":[0,60],"nice":false,"zero":false},"axis":{"orient":"left","values":[0,7.5,15,22.5,30,37.5,45,52.5,60],"labelExpr":"datum.value==0||datum.value==60?datum.label:''","labelFlush":true,"labelOverlap":false,"tickSize":4,"tickColor":"#33555e","domainColor":"#1f3d45","domainWidth":1.6,"grid":true,"gridColor":"#c5d0d8","gridOpacity":{"condition":{"test":"datum.value==15||datum.value==30||datum.value==45","value":1},"value":0},"labelFontSize":7.5,"labelFontWeight":"bold","labelColor":"#222222","labelPadding":1,"title":["Flow","(ml/s)"],"titleColor":"#1d3fc8","titleFontSize":7.5,"titleFontWeight":"bold","titleAngle":0,"titleAlign":"center","titleBaseline":"middle","titleX":-39,"titleY":33,"titleLineHeight":9}}}},
{"data":{"name":"ev"},"mark":{"type":"rule","strokeWidth":1.2},
"encoding":{"x":{"field":"t","type":"quantitative","scale":{"domain":[0,512],"nice":false,"zero":false},"axis":null},
"color":{"condition":[{"test":"datum.kind==='u'","value":"#b46a6a"},{"test":"datum.kind==='z'","value":"#4ab6d6"}],"value":"#2a98b0"},
"strokeDash":{"condition":{"test":"datum.kind==='z'","value":[2,2]},"value":[1,0]}}},
{"data":{"values":[{}]},"mark":{"type":"rule","opacity":0},
"encoding":{"y":{"datum":0,"type":"quantitative","scale":{"domain":[0,60],"nice":false,"zero":false},"axis":{"orient":"right","values":[0,7.5,15,22.5,30,37.5,45,52.5,60],"labelExpr":"datum.value==0||datum.value==60?datum.label:''","labelFlush":true,"labelOverlap":false,"tickSize":3,"tickColor":"#33555e","domainColor":"#1f3d45","domainWidth":1.6,"grid":false,"labelFontSize":7.5,"labelFontWeight":"bold","labelColor":"#222222","labelPadding":1,"title":null}}}},
{"data":{"name":"ann"},"transform":[{"filter":"datum.c==='Flow'"},{"lookup":"e","from":{"data":{"name":"ev"},"key":"id","fields":["t","r"]}}],
"mark":{"type":"text","align":"left","baseline":"middle","dx":2.5,"fontSize":7,"color":"#3c3c3c"},
"encoding":{"x":{"field":"t","type":"quantitative","scale":{"domain":[0,512],"nice":false,"zero":false},"axis":null},
"y":{"field":"r","type":"quantitative","scale":{"domain":[-1.3,6],"reverse":true,"nice":false,"zero":false},"axis":null},
"text":{"field":"txt"}}}
],
"resolve":{"scale":{"y":"independent"}}
},
{
"width":674,"height":63,
"layer":[
{"data":{"name":"sig"},"transform":[{"filter":"datum.c==='Volume'"}],
"mark":{"type":"line","color":"#a5525a","strokeWidth":1.4,"clip":true},
"encoding":{
"x":{"field":"t","type":"quantitative","scale":{"domain":[0,512],"nice":false,"zero":false},"axis":{"orient":"bottom","values":[0,30,60,90,120,150,180,210,240,270,300,330,360,390,420,450,480,510],"grid":true,"gridColor":"#d0e2ee","gridOpacity":{"condition":{"test":"datum.value>0","value":1},"value":0},"ticks":false,"labels":false,"domain":false,"title":null}},
"y":{"field":"v","type":"quantitative","scale":{"domain":[0,600],"nice":false,"zero":false},"axis":{"orient":"left","values":[0,75,150,225,300,375,450,525,600],"labelExpr":"datum.value==0||datum.value==600?datum.label:''","labelFlush":true,"labelOverlap":false,"tickSize":4,"tickColor":"#33555e","domainColor":"#1f3d45","domainWidth":1.6,"grid":true,"gridColor":"#c5d0d8","gridOpacity":{"condition":{"test":"datum.value==150||datum.value==300||datum.value==450","value":1},"value":0},"labelFontSize":7.5,"labelFontWeight":"bold","labelColor":"#222222","labelPadding":1,"title":["Volume","(ml)"],"titleColor":"#8b2838","titleFontSize":7.5,"titleFontWeight":"bold","titleAngle":0,"titleAlign":"center","titleBaseline":"middle","titleX":-39,"titleY":31,"titleLineHeight":9}},
"detail":{"field":"s"}}},
{"data":{"name":"ev"},"mark":{"type":"rule","strokeWidth":1.2},
"encoding":{"x":{"field":"t","type":"quantitative","scale":{"domain":[0,512],"nice":false,"zero":false},"axis":null},
"color":{"condition":[{"test":"datum.kind==='u'","value":"#b46a6a"},{"test":"datum.kind==='z'","value":"#4ab6d6"}],"value":"#2a98b0"},
"strokeDash":{"condition":{"test":"datum.kind==='z'","value":[2,2]},"value":[1,0]}}},
{"data":{"values":[{}]},"mark":{"type":"rule","opacity":0},
"encoding":{"y":{"datum":0,"type":"quantitative","scale":{"domain":[0,600],"nice":false,"zero":false},"axis":{"orient":"right","values":[0,75,150,225,300,375,450,525,600],"labelExpr":"datum.value==0||datum.value==600?datum.label:''","labelFlush":true,"labelOverlap":false,"tickSize":3,"tickColor":"#33555e","domainColor":"#1f3d45","domainWidth":1.6,"grid":false,"labelFontSize":7.5,"labelFontWeight":"bold","labelColor":"#222222","labelPadding":1,"title":null}}}},
{"data":{"name":"ann"},"transform":[{"filter":"datum.c==='Volume'"},{"lookup":"e","from":{"data":{"name":"ev"},"key":"id","fields":["t","r"]}}],
"mark":{"type":"text","align":"left","baseline":"middle","dx":2.5,"fontSize":7,"color":"#3c3c3c"},
"encoding":{"x":{"field":"t","type":"quantitative","scale":{"domain":[0,512],"nice":false,"zero":false},"axis":null},
"y":{"field":"r","type":"quantitative","scale":{"domain":[-1.3,6],"reverse":true,"nice":false,"zero":false},"axis":null},
"text":{"field":"txt"}}}
],
"resolve":{"scale":{"y":"independent"}}
},
{
"width":674,"height":62,
"layer":[
{"data":{"name":"sig"},"transform":[{"filter":"datum.c==='VH2O'"}],
"mark":{"type":"line","color":"#2c5b66","strokeWidth":1.2,"clip":true},
"encoding":{
"x":{"field":"t","type":"quantitative","scale":{"domain":[0,512],"nice":false,"zero":false},"axis":{"orient":"bottom","values":[0,30,60,90,120,150,180,210,240,270,300,330,360,390,420,450,480,510],"grid":true,"gridColor":"#d0e2ee","gridOpacity":{"condition":{"test":"datum.value>0","value":1},"value":0},"ticks":false,"labels":false,"domain":false,"title":null}},
"y":{"field":"v","type":"quantitative","scale":{"domain":[0,600],"nice":false,"zero":false},"axis":{"orient":"left","values":[0,75,150,225,300,375,450,525,600],"labelExpr":"datum.value==0||datum.value==600?datum.label:''","labelFlush":true,"labelOverlap":false,"tickSize":4,"tickColor":"#33555e","domainColor":"#1f3d45","domainWidth":1.6,"grid":true,"gridColor":"#c5d0d8","gridOpacity":{"condition":{"test":"datum.value==150||datum.value==300||datum.value==450","value":1},"value":0},"labelFontSize":7.5,"labelFontWeight":"bold","labelColor":"#222222","labelPadding":1,"title":["VH2O","(ml)"],"titleColor":"#111111","titleFontSize":7.5,"titleFontWeight":"bold","titleAngle":0,"titleAlign":"center","titleBaseline":"middle","titleX":-39,"titleY":31,"titleLineHeight":9}}}},
{"data":{"name":"ev"},"mark":{"type":"rule","strokeWidth":1.2},
"encoding":{"x":{"field":"t","type":"quantitative","scale":{"domain":[0,512],"nice":false,"zero":false},"axis":null},
"color":{"condition":[{"test":"datum.kind==='u'","value":"#b46a6a"},{"test":"datum.kind==='z'","value":"#4ab6d6"}],"value":"#2a98b0"},
"strokeDash":{"condition":{"test":"datum.kind==='z'","value":[2,2]},"value":[1,0]}}},
{"data":{"values":[{}]},"mark":{"type":"rule","opacity":0},
"encoding":{"y":{"datum":0,"type":"quantitative","scale":{"domain":[0,600],"nice":false,"zero":false},"axis":{"orient":"right","values":[0,75,150,225,300,375,450,525,600],"labelExpr":"datum.value==0||datum.value==600?datum.label:''","labelFlush":true,"labelOverlap":false,"tickSize":3,"tickColor":"#33555e","domainColor":"#1f3d45","domainWidth":1.6,"grid":false,"labelFontSize":7.5,"labelFontWeight":"bold","labelColor":"#222222","labelPadding":1,"title":null}}}},
{"data":{"name":"ann"},"transform":[{"filter":"datum.c==='VH2O'"},{"lookup":"e","from":{"data":{"name":"ev"},"key":"id","fields":["t","r"]}}],
"mark":{"type":"text","align":"left","baseline":"middle","dx":2.5,"fontSize":7,"color":"#3c3c3c"},
"encoding":{"x":{"field":"t","type":"quantitative","scale":{"domain":[0,512],"nice":false,"zero":false},"axis":null},
"y":{"field":"r","type":"quantitative","scale":{"domain":[-1.3,6],"reverse":true,"nice":false,"zero":false},"axis":null},
"text":{"field":"txt"}}}
],
"resolve":{"scale":{"y":"independent"}}
}
]
}
